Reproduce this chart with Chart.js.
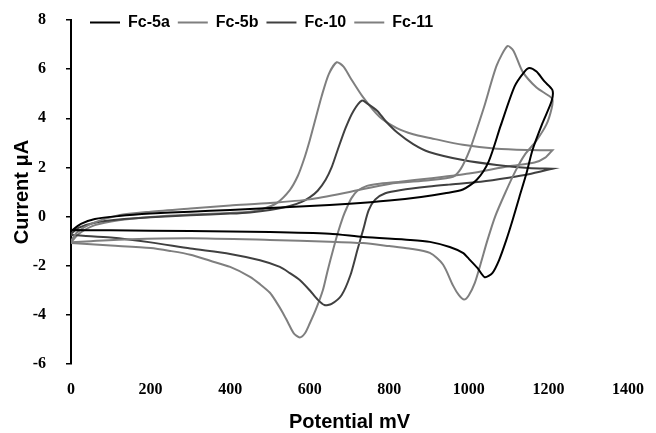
<!DOCTYPE html>
<html>
<head>
<meta charset="utf-8">
<script src="https://cdn.jsdelivr.net/npm/chart.js@4/dist/chart.umd.min.js"></script>
<style>
  html, body { margin: 0; padding: 0; background: #fff; }
  #wrap { width: 656px; height: 433px; position: relative; }
</style>
</head>
<body>
<div id="wrap"><canvas id="id-cv-chart"></canvas></div>
<script>
// series names / colours
const series_names = ['Fc-5a', 'Fc-5b', 'Fc-10', 'Fc-11'];
const series_colors = ['#000000', '#7f7f7f', '#404040', '#7f7f7f'];

// axis ticks
const x_ticks = [0, 200, 400, 600, 800, 1000, 1200, 1400];
const y_ticks = [-6, -4, -2, 0, 2, 4, 6, 8];

// Fc-5a : forward scan then reverse scan (mV, uA)
const fc5a_x = [0, 25, 60, 120, 200, 300, 400, 500, 600, 700, 800, 880, 940, 985, 1020, 1050, 1080, 1115, 1140, 1152, 1170, 1190, 1210,
                1208, 1185, 1160, 1145, 1127, 1110, 1094, 1076, 1059, 1040, 1022, 1000, 985, 952, 902, 852, 735, 650, 500, 300, 100, 0];
const fc5a_y = [-0.6, -0.3, -0.1, 0.02, 0.12, 0.2, 0.27, 0.35, 0.43, 0.52, 0.65, 0.8, 0.95, 1.1, 1.5, 2.25, 3.7, 5.3, 5.9, 6.05, 5.9, 5.5, 5.15,
                4.7, 3.8, 2.71, 1.77, 0.8, -0.14, -0.96, -1.77, -2.3, -2.47, -2.1, -1.72, -1.48, -1.24, -1.03, -0.95, -0.83, -0.7, -0.63, -0.59, -0.56, -0.55];

// Fc-5b
const fc5b_x = [0, 15, 50, 120, 200, 300, 400, 500, 600, 700, 800, 900, 960, 980, 1002, 1025, 1040, 1070, 1097, 1112, 1135, 1170, 1198, 1210,
                1208, 1195, 1168, 1142, 1117, 1091, 1066, 1046, 1030, 1015, 1000, 988, 975, 960, 935, 902, 850, 800, 734, 650, 500, 300, 150, 50, 0];
const fc5b_y = [-1.0, -0.65, -0.3, 0.05, 0.2, 0.33, 0.45, 0.55, 0.7, 1.0, 1.33, 1.48, 1.62, 1.95, 2.7, 3.8, 4.55, 6.15, 6.94, 6.75, 5.9, 5.25, 4.95, 4.78,
                4.4, 3.75, 3.05, 2.55, 1.85, 0.95, 0.0, -1.0, -1.9, -2.7, -3.2, -3.38, -3.2, -2.8, -1.95, -1.48, -1.3, -1.2, -1.08, -1.02, -0.95, -0.88, -0.92, -1.0, -1.05];

// Fc-10
const fc10_x = [0, 20, 60, 120, 200, 300, 400, 450, 500, 550, 580, 600, 620, 640, 655, 670, 690, 710, 731, 745, 770, 790, 820, 860, 900, 985, 1070, 1150, 1210,
                1210, 1150, 1100, 1030, 950, 900, 830, 790, 765, 748, 735, 720, 702, 680, 655, 637, 620, 600, 575, 550, 525, 475, 400, 300, 200, 100, 30, 0];
const fc10_y = [-0.7, -0.45, -0.25, -0.12, -0.03, 0.05, 0.12, 0.17, 0.27, 0.43, 0.6, 0.78, 1.05, 1.5, 2.0, 2.7, 3.6, 4.3, 4.72, 4.6, 4.3, 3.9, 3.42, 2.95, 2.63, 2.3, 2.1, 1.98, 1.95,
                1.95, 1.72, 1.58, 1.42, 1.3, 1.22, 1.08, 0.95, 0.7, 0.25, -0.5, -1.35, -2.4, -3.2, -3.55, -3.6, -3.38, -3.0, -2.58, -2.3, -2.05, -1.78, -1.52, -1.3, -1.05, -0.85, -0.78, -0.75];

// Fc-11
const fc11_x = [0, 20, 60, 120, 200, 300, 400, 450, 480, 517, 550, 570, 585, 600, 615, 630, 648, 668, 685, 701, 734, 776, 819, 860, 902, 985, 1070, 1150, 1210,
                1210, 1192, 1165, 1100, 1000, 900, 827, 770, 744, 720, 705, 693, 684, 670, 658, 645, 633, 615, 600, 588, 575, 560, 545, 533, 515, 500, 475, 450, 400, 350, 300, 250, 200, 100, 0];
const fc11_y = [-1.05, -0.7, -0.35, -0.15, -0.02, 0.08, 0.15, 0.2, 0.3, 0.55, 1.08, 1.65, 2.3, 3.1, 4.0, 4.9, 5.8, 6.28, 6.1, 5.68, 4.86, 4.05, 3.6, 3.35, 3.2, 2.92, 2.76, 2.71, 2.7,
                2.7, 2.4, 2.2, 2.05, 1.75, 1.55, 1.42, 1.33, 1.25, 1.05, 0.75, 0.35, 0.0, -0.7, -1.4, -2.2, -3.0, -3.8, -4.35, -4.75, -4.92, -4.75, -4.3, -3.93, -3.45, -3.1, -2.75, -2.45, -2.05, -1.8, -1.55, -1.4, -1.28, -1.18, -1.08];

const series_x = [fc5a_x, fc5b_x, fc10_x, fc11_x];
const series_y = [fc5a_y, fc5b_y, fc10_y, fc11_y];

function MakePoints(xs, ys)
{
  return xs.map((x, i) => ({ x: x, y: ys[i] }));
}

// legend takes no room in the layout and is drawn over the top of the plot
const legend_nudge =
{
  id: 'legend_nudge',
  beforeLayout(chart)
  {
    const lg = chart.legend;
    if (!lg || lg._nudged) return;
    lg._nudged = true;
    const fit = lg.fit;
    lg.fit = function()
    {
      fit.call(this);
      this._real_height = this.height;
      this.height = 0;
    };
  },
  afterLayout(chart)
  {
    const lg = chart.legend;
    if (!lg) return;
    lg.left = 82; lg.right = 656;
    lg.top = 6.5; lg.bottom = lg.top + (lg._real_height || 32);
  }
};

// keep tick label overhang from pushing the plot area in
function NoScalePadding(scale)
{
  scale.paddingTop = 0;
  scale.paddingBottom = 0;
  scale.paddingLeft = 0;
  scale.paddingRight = 0;
}

function DrawChart()
{
  const datasets = series_names.map((name, i) =>
  ({
    label: name,
    data: MakePoints(series_x[i], series_y[i]),
    borderColor: series_colors[i],
    backgroundColor: series_colors[i],
    borderWidth: 2,
    showLine: true,
    pointRadius: 0,
    tension: 0.25
  }));

  const tick_font = { family: 'Liberation Serif', size: 16, weight: 'bold' };
  const title_font = { family: 'Liberation Sans', size: 20, weight: 'bold' };

  const config =
  {
    type: 'scatter',
    data: { datasets: datasets },
    options:
    {
      animation: false,
      responsive: true,
      maintainAspectRatio: false,
      layout: { padding: { left: 0, right: 28, top: 20, bottom: 0 } },
      plugins:
      {
        tooltip: { enabled: false },
        legend:
        {
          position: 'top',
          align: 'start',
          labels:
          {
            boxWidth: 30,
            boxHeight: 0,
            padding: 8,
            color: '#000',
            font: { family: 'Liberation Sans', size: 16, weight: 'bold' }
          }
        }
      },
      scales:
      {
        x:
        {
          type: 'linear',
          min: x_ticks[0],
          max: x_ticks[x_ticks.length - 1],
          afterBuildTicks: (scale) => { scale.ticks = x_ticks.map(v => ({ value: v })); },
          afterFit: (scale) => { scale.height = 69; NoScalePadding(scale); },
          grid: { display: false, drawTicks: false },
          border: { display: false },
          ticks: { color: '#000', font: tick_font, padding: 16, maxRotation: 0, callback: (v) => String(v) },
          title: { display: true, text: 'Potential mV', color: '#000', font: title_font, padding: { top: 0, bottom: -1 } }
        },
        y:
        {
          type: 'linear',
          min: y_ticks[0],
          max: y_ticks[y_ticks.length - 1],
          afterBuildTicks: (scale) => { scale.ticks = y_ticks.map(v => ({ value: v })); },
          afterFit: (scale) => { scale.width = 71; NoScalePadding(scale); },
          grid: { display: true, drawOnChartArea: false, drawTicks: true, tickLength: 5, color: '#000', lineWidth: 1.5 },
          border: { display: true, color: '#000', width: 2 },
          ticks: { color: '#000', font: tick_font, padding: 20, callback: (v) => String(v) },
          title: { display: true, text: 'Current μA', color: '#000', font: title_font, padding: { top: 10, bottom: 0 } }
        }
      }
    },
    plugins: [legend_nudge]
  };

  const ctx = document.getElementById('id-cv-chart').getContext('2d');
  new Chart(ctx, config);
}

document.addEventListener("DOMContentLoaded", function()
{
  DrawChart();
});
</script>
</body>
</html>
